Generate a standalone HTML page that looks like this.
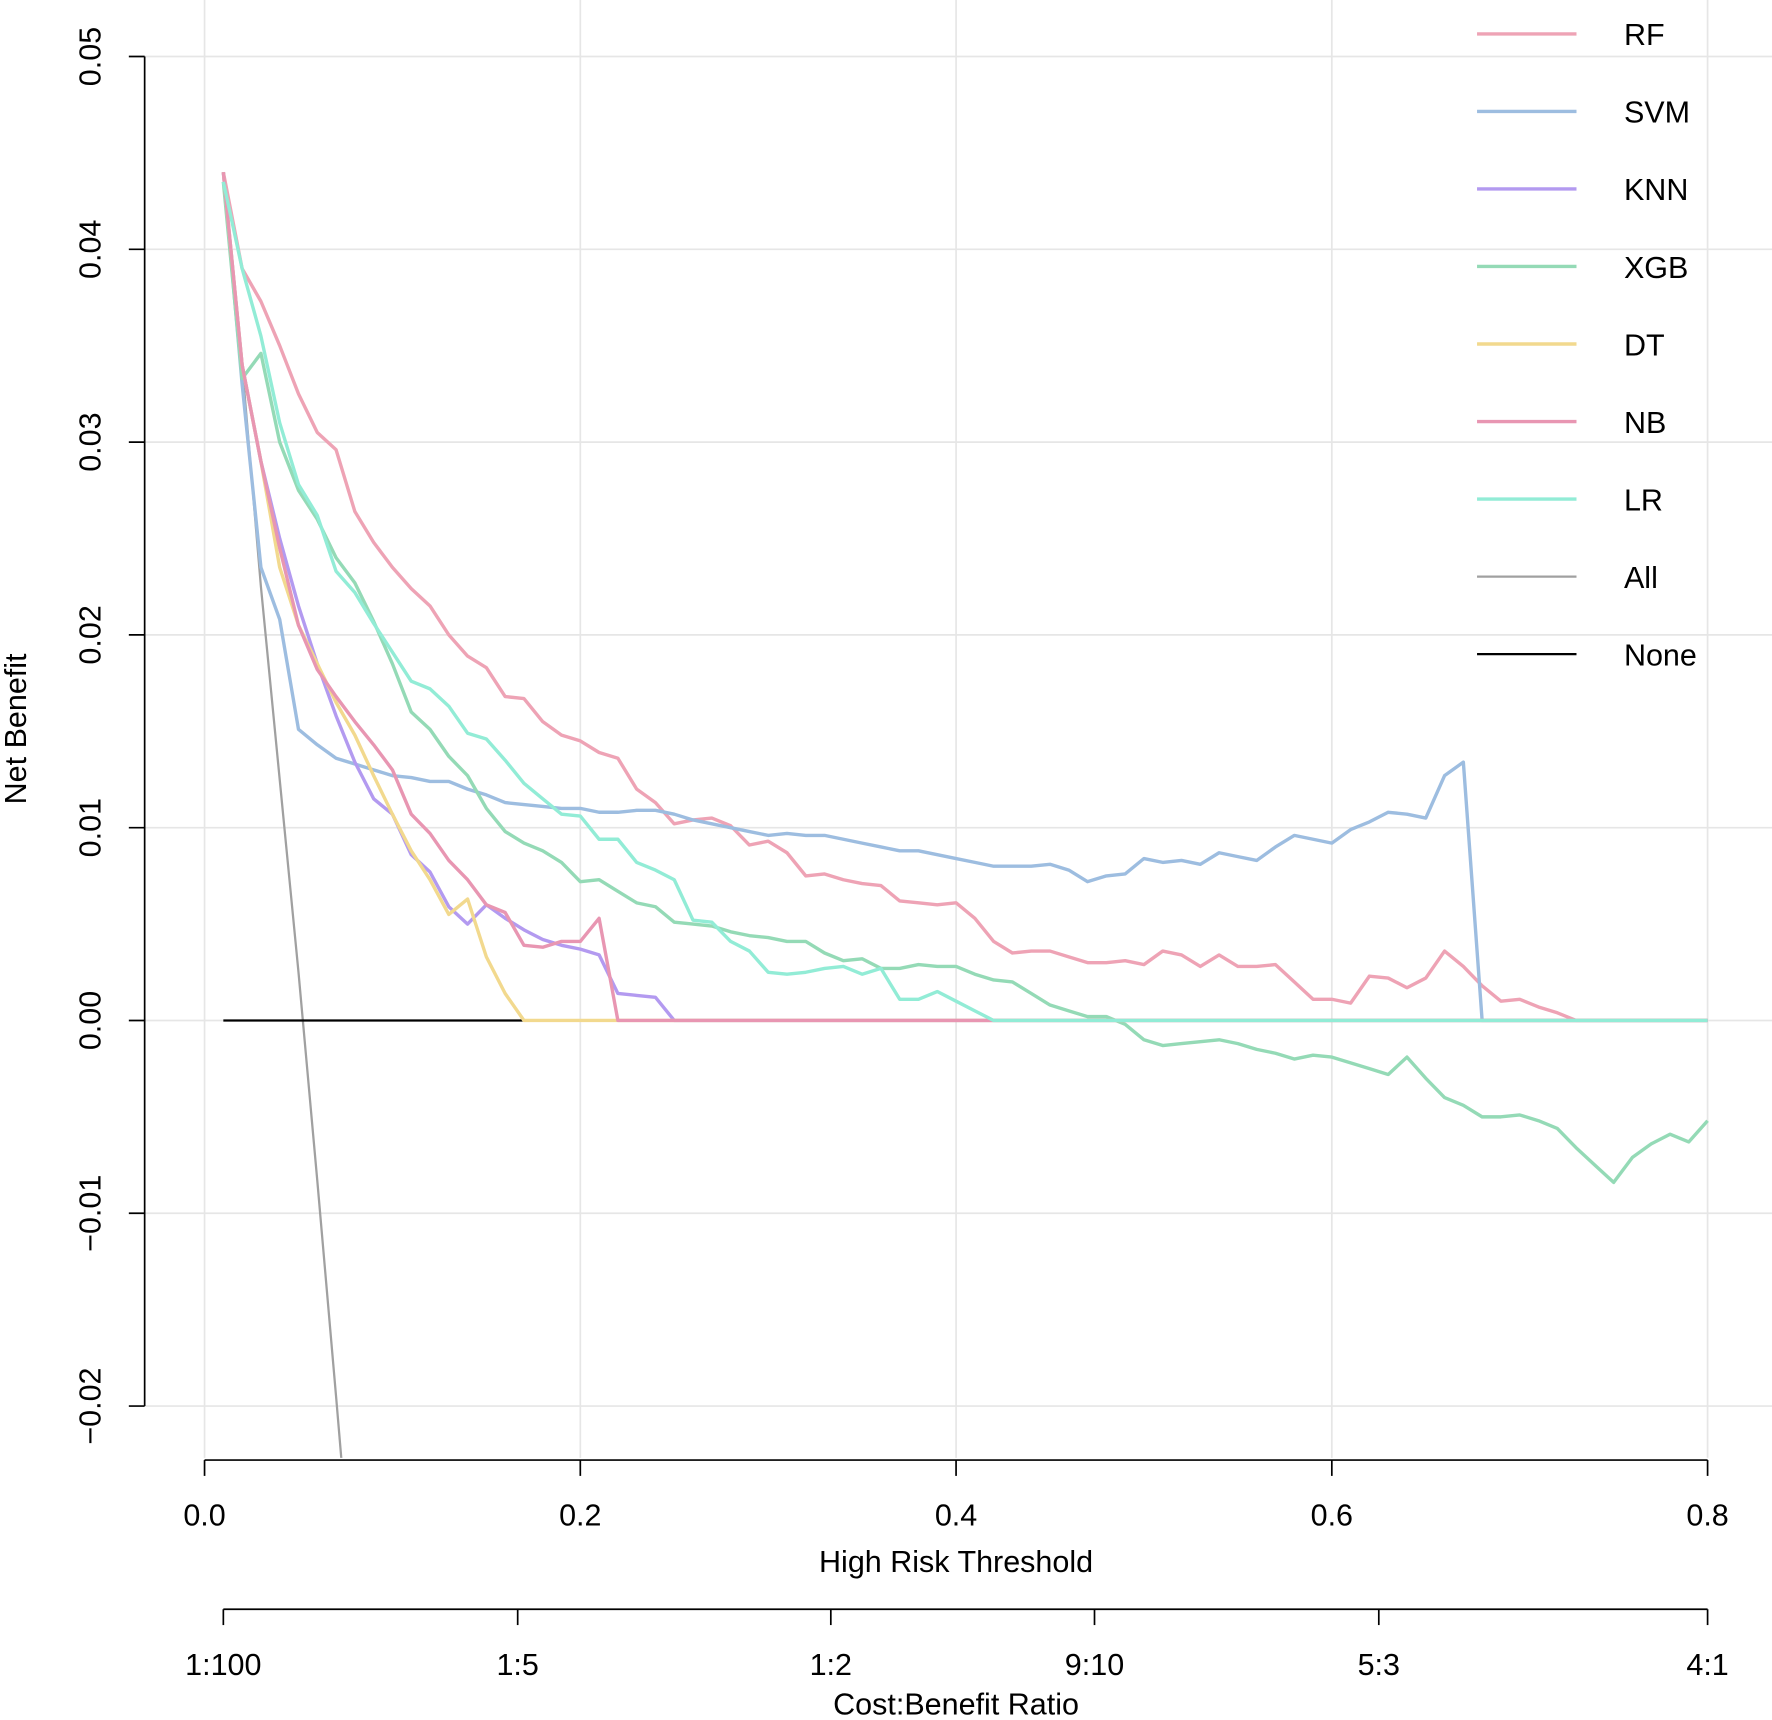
<!DOCTYPE html>
<html><head><meta charset="utf-8"><style>
html,body{margin:0;padding:0;background:#fff;}
svg{display:block;font-family:"Liberation Sans",Arial,sans-serif;}
</style></head><body>
<svg id="chart" width="1772" height="1720" viewBox="0 0 1568 1522" preserveAspectRatio="none" xmlns="http://www.w3.org/2000/svg">
<defs><clipPath id="plotclip"><rect x="128" y="0" width="1440" height="1290"/></clipPath></defs>
<g id="grid"></g>
<g id="series" clip-path="url(#plotclip)"></g>
<g id="axes"></g>
<g id="legend"></g>
</svg>
<script>
const thresholds = Array.from({length:80},(_,i)=>+(0.01*(i+1)).toFixed(2));
const rf = [0.044,0.039,0.0373,0.035,0.0325,0.0305,0.0296,0.0264,0.0248,0.0235,0.0224,0.0215,0.020,0.0189,0.0183,0.0168,0.0167,0.0155,0.0148,0.0145,0.0139,0.0136,0.012,0.0113,0.0102,0.0104,0.0105,0.0101,0.0091,0.0093,0.0087,0.0075,0.0076,0.0073,0.0071,0.007,0.0062,0.0061,0.006,0.0061,0.0053,0.0041,0.0035,0.0036,0.0036,0.0033,0.003,0.003,0.0031,0.0029,0.0036,0.0034,0.0028,0.0034,0.0028,0.0028,0.0029,0.002,0.0011,0.0011,0.0009,0.0023,0.0022,0.0017,0.0022,0.0036,0.0028,0.0018,0.001,0.0011,0.0007,0.0004,0,0,0,0,0,0,0,0];
const svm = [0.044,0.033,0.0235,0.0208,0.0151,0.0143,0.0136,0.0133,0.013,0.0127,0.0126,0.0124,0.0124,0.012,0.0117,0.0113,0.0112,0.0111,0.011,0.011,0.0108,0.0108,0.0109,0.0109,0.0107,0.0104,0.0102,0.0100,0.0098,0.0096,0.0097,0.0096,0.0096,0.0094,0.0092,0.009,0.0088,0.0088,0.0086,0.0084,0.0082,0.008,0.008,0.008,0.0081,0.0078,0.0072,0.0075,0.0076,0.0084,0.0082,0.0083,0.0081,0.0087,0.0085,0.0083,0.009,0.0096,0.0094,0.0092,0.0099,0.0103,0.0108,0.0107,0.0105,0.0127,0.0134,0,0,0,0,0,0,0,0,0,0,0,0,0];
const knn = [0.044,0.034,0.029,0.025,0.0215,0.0185,0.0158,0.0134,0.0115,0.0107,0.0086,0.0077,0.0059,0.005,0.006,0.0053,0.0047,0.0042,0.0039,0.0037,0.0034,0.0014,0.0013,0.0012,0,0,0,0,0,0,0,0,0,0,0,0,0,0,0,0,0,0,0,0,0,0,0,0,0,0,0,0,0,0,0,0,0,0,0,0,0,0,0,0,0,0,0,0,0,0,0,0,0,0,0,0,0,0,0,0];
const xgb = [0.0435,0.0333,0.0346,0.030,0.0275,0.026,0.024,0.0227,0.0207,0.0185,0.016,0.0151,0.0137,0.0127,0.011,0.0098,0.0092,0.0088,0.0082,0.0072,0.0073,0.0067,0.0061,0.0059,0.0051,0.005,0.0049,0.0046,0.0044,0.0043,0.0041,0.0041,0.0035,0.0031,0.0032,0.0027,0.0027,0.0029,0.0028,0.0028,0.0024,0.0021,0.002,0.0014,0.0008,0.0005,0.0002,0.0002,-0.0002,-0.001,-0.0013,-0.0012,-0.0011,-0.001,-0.0012,-0.0015,-0.0017,-0.002,-0.0018,-0.0019,-0.0022,-0.0025,-0.0028,-0.0019,-0.003,-0.004,-0.0044,-0.005,-0.005,-0.0049,-0.0052,-0.0056,-0.0066,-0.0075,-0.0084,-0.0071,-0.0064,-0.0059,-0.0063,-0.0052];
const dt = [0.044,0.034,0.029,0.0235,0.0205,0.0185,0.0165,0.0148,0.0127,0.0107,0.0088,0.0073,0.0055,0.0063,0.0033,0.0014,0,0,0,0,0,0,0,0,0,0,0,0,0,0,0,0,0,0,0,0,0,0,0,0,0,0,0,0,0,0,0,0,0,0,0,0,0,0,0,0,0,0,0,0,0,0,0,0,0,0,0,0,0,0,0,0,0,0,0,0,0,0,0,0];
const nb = [0.044,0.034,0.029,0.0245,0.0205,0.0182,0.0168,0.0155,0.0143,0.013,0.0107,0.0097,0.0083,0.0073,0.006,0.0056,0.0039,0.0038,0.0041,0.0041,0.0053,0,0,0,0,0,0,0,0,0,0,0,0,0,0,0,0,0,0,0,0,0,0,0,0,0,0,0,0,0,0,0,0,0,0,0,0,0,0,0,0,0,0,0,0,0,0,0,0,0,0,0,0,0,0,0,0,0,0,0];
const lr = [0.0435,0.039,0.0355,0.031,0.0278,0.0262,0.0233,0.0222,0.0206,0.0191,0.0176,0.0172,0.0163,0.0149,0.0146,0.0135,0.0123,0.0115,0.0107,0.0106,0.0094,0.0094,0.0082,0.0078,0.0073,0.0052,0.0051,0.0041,0.0036,0.0025,0.0024,0.0025,0.0027,0.0028,0.0024,0.0027,0.0011,0.0011,0.0015,0.001,0.0005,0,0,0,0,0,0,0,0,0,0,0,0,0,0,0,0,0,0,0,0,0,0,0,0,0,0,0,0,0,0,0,0,0,0,0,0,0,0,0];
const allT = [0.01,0.02,0.03,0.04,0.05,0.06,0.07,0.08];
const allV = [0.044,0.034,0.0225,0.0125,0.0025,-0.0083,-0.0195,-0.031];
const noneT = [0.01,0.8];
const noneV = [0,0];
const xTicks = [0.0,0.2,0.4,0.6,0.8];
const xTickLabels = ["0.0","0.2","0.4","0.6","0.8"];
const yTicks = [0.05,0.04,0.03,0.02,0.01,0.00,-0.01,-0.02];
const yTickLabels = ["0.05","0.04","0.03","0.02","0.01","0.00","\u22120.01","\u22120.02"];
const cbTicks = [0.01,1/6,1/3,9/19,0.625,0.8];
const cbLabels = ["1:100","1:5","1:2","9:10","5:3","4:1"];
const legendNames = ["RF","SVM","KNN","XGB","DT","NB","LR","All","None"];
const legendColors = ["#eea3b5","#9dbde0","#b39af0","#94dab6","#f2d98e","#e896b2","#92ecd6","#a0a0a0","#000000"];

const NS="http://www.w3.org/2000/svg";
const FS=27;
const X = t => 181 + t*(1511-181)/0.8;
const Y = v => 903 - v*17060;
function mk(tag, attrs, parent){const e=document.createElementNS(NS,tag);for(const k in attrs)e.setAttribute(k,attrs[k]);parent.appendChild(e);return e;}
const grid=document.getElementById('grid'), series=document.getElementById('series'), axes=document.getElementById('axes'), legend=document.getElementById('legend');

xTicks.forEach(t=>{const l=mk('line',{x1:X(t),x2:X(t),y1:0,y2:1290,stroke:'#e6e6e6','stroke-width':1.5},grid);

});
yTicks.forEach(v=>{const l=mk('line',{x1:128,x2:1568,y1:Y(v),y2:Y(v),stroke:'#e6e6e6','stroke-width':1.5},grid);

});

function drawLine(ts, vs, color, w, name){
  const d=ts.map((t,i)=>(i?'L':'M')+X(t).toFixed(2)+','+Y(vs[i]).toFixed(2)).join(' ');
  const p=mk('path',{d:d,fill:'none',stroke:color,'stroke-width':w,'stroke-linejoin':'round'},series);
  
  
}
drawLine(allT, allV, legendColors[7], 2, 'line-all');
drawLine(noneT, noneV, legendColors[8], 2, 'line-none');
drawLine(thresholds, rf, legendColors[0], 3, 'line-rf');
drawLine(thresholds, svm, legendColors[1], 3, 'line-svm');
drawLine(thresholds, knn, legendColors[2], 3, 'line-knn');
drawLine(thresholds, xgb, legendColors[3], 3, 'line-xgb');
drawLine(thresholds, dt, legendColors[4], 3, 'line-dt');
drawLine(thresholds, nb, legendColors[5], 3, 'line-nb');
drawLine(thresholds, lr, legendColors[6], 3, 'line-lr');

let a=mk('line',{x1:128,x2:128,y1:Y(0.05),y2:Y(-0.02),stroke:'#000','stroke-width':1.5},axes);


yTicks.forEach((v,i)=>{
  const tk=mk('line',{x1:114,x2:128,y1:Y(v),y2:Y(v),stroke:'#000','stroke-width':1.5},axes);
  
  
  const tx=mk('text',{x:0,y:0,transform:`translate(89,${Y(v)}) rotate(-90)`,'text-anchor':'middle','font-size':FS,fill:'#000'},axes);
  tx.textContent=yTickLabels[i];
  
  
});
a=mk('line',{x1:X(0),x2:X(0.8),y1:1292,y2:1292,stroke:'#000','stroke-width':1.5},axes);


xTicks.forEach((t,i)=>{
  const tk=mk('line',{x1:X(t),x2:X(t),y1:1292,y2:1306,stroke:'#000','stroke-width':1.5},axes);
  
  
  const tx=mk('text',{x:X(t),y:1350,'text-anchor':'middle','font-size':FS,fill:'#000'},axes);
  tx.textContent=xTickLabels[i];
  
  
});
a=mk('line',{x1:X(0.01),x2:X(0.8),y1:1424,y2:1424,stroke:'#000','stroke-width':1.5},axes);


cbTicks.forEach((t,i)=>{
  const tk=mk('line',{x1:X(t),x2:X(t),y1:1424,y2:1438,stroke:'#000','stroke-width':1.5},axes);
  
  
  const tx=mk('text',{x:X(t),y:1482,'text-anchor':'middle','font-size':FS,fill:'#000'},axes);
  tx.textContent=cbLabels[i];
  
  
});
let t1=mk('text',{x:846,y:1391,'text-anchor':'middle','font-size':FS,fill:'#000'},axes);
t1.textContent='High Risk Threshold';


let t2=mk('text',{x:846,y:1517,'text-anchor':'middle','font-size':FS,fill:'#000'},axes);
t2.textContent='Cost:Benefit Ratio';


let t3=mk('text',{x:0,y:0,transform:'translate(23,645) rotate(-90)','text-anchor':'middle','font-size':FS,fill:'#000'},axes);
t3.textContent='Net Benefit';



legendNames.forEach((n,i)=>{
  const y=30+i*68.6;
  const g=mk('g',{},legend);
  
  
  mk('line',{x1:1307,x2:1395,y1:y,y2:y,stroke:legendColors[i],'stroke-width':i>=7?2:3},g);
  const tx=mk('text',{x:1437,y:y+10,'font-size':FS,fill:'#000'},g);
  tx.textContent=n;
});
</script>
</body></html>
